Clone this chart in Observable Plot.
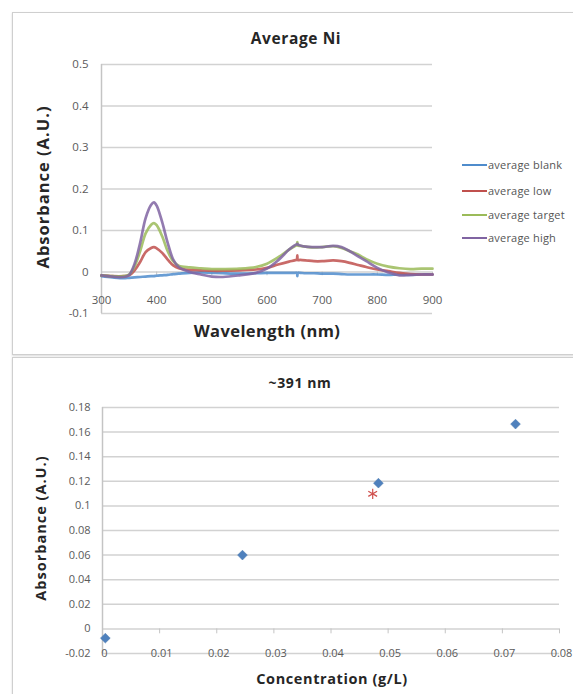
<!DOCTYPE html>
<html>
<head>
<meta charset="utf-8">
<script src="https://cdn.jsdelivr.net/npm/d3@7"></script>
<script src="https://cdn.jsdelivr.net/npm/@observablehq/plot@0.6"></script>
<style>
  html, body { margin: 0; padding: 0; background: #fff; }
  #wrap { position: relative; width: 573px; height: 694px; overflow: hidden; font-family: "Open Sans", Lato, sans-serif; }
  .panel { position: absolute; border: 1px solid #cfcfcf; box-shadow: 0 1px 2px rgba(0,0,0,0.15); background: #fff; }
  .t { position: absolute; white-space: nowrap; color: #262626; font-weight: bold; }
  .rot { transform: translate(-50%, -50%) rotate(-90deg); }
  .ctr { transform: translate(-50%, -50%); }
  .leg { position: absolute; font-size: 11px; color: #555; white-space: nowrap; letter-spacing: 0.2px; }
  .sw { position: absolute; height: 2px; width: 25px; }
  svg { position: absolute; left: 0; }
</style>
</head>
<body>
<div id="wrap">
  <div class="panel" style="left:12px; top:12px; width:620px; height:341px;"></div>
  <div class="panel" style="left:12px; top:357px; width:620px; height:400px;"></div>
</div>
<script>
// ---------- Data: spectra (Average Ni) ----------
const seriesNames = ["average blank", "average low", "average target", "average high"];
const seriesColors = ["#4f8ccc", "#c0504d", "#9bbb59", "#8064a2"];
const wavelengths = [300, 320, 340, 350, 360, 370, 380, 390, 395, 400, 410, 420, 430, 440, 460, 480, 500, 520, 550, 580, 600, 620, 640, 650, 654, 655, 656, 660, 670, 685, 700, 720, 735, 750, 765, 780, 800, 820, 840, 860, 880, 900];
const blankVals  = [-0.010, -0.013, -0.015, -0.014, -0.013, -0.012, -0.011, -0.010, -0.010, -0.009, -0.008, -0.007, -0.005, -0.004, -0.002, -0.001, -0.002, -0.003, -0.004, -0.003, -0.002, -0.002, -0.002, -0.002, -0.002, -0.010, -0.002, -0.002, -0.003, -0.003, -0.004, -0.004, -0.005, -0.006, -0.006, -0.006, -0.006, -0.007, -0.006, -0.007, -0.006, -0.006];
const lowVals    = [-0.008, -0.010, -0.010, -0.008, 0.004, 0.024, 0.048, 0.058, 0.060, 0.057, 0.046, 0.030, 0.016, 0.009, 0.005, 0.004, 0.003, 0.003, 0.004, 0.006, 0.010, 0.018, 0.025, 0.028, 0.030, 0.040, 0.029, 0.029, 0.028, 0.026, 0.026, 0.028, 0.026, 0.022, 0.017, 0.012, 0.006, 0.002, -0.002, -0.005, -0.006, -0.006];
const targetVals = [-0.008, -0.010, -0.010, -0.006, 0.014, 0.050, 0.093, 0.114, 0.118, 0.113, 0.086, 0.050, 0.026, 0.015, 0.011, 0.009, 0.007, 0.007, 0.008, 0.012, 0.020, 0.035, 0.054, 0.062, 0.065, 0.072, 0.064, 0.063, 0.061, 0.059, 0.060, 0.062, 0.058, 0.050, 0.042, 0.031, 0.020, 0.013, 0.009, 0.007, 0.008, 0.008];
const highVals   = [-0.008, -0.011, -0.012, -0.007, 0.020, 0.070, 0.130, 0.162, 0.168, 0.160, 0.120, 0.070, 0.030, 0.012, 0.000, -0.006, -0.011, -0.012, -0.008, -0.002, 0.008, 0.028, 0.054, 0.064, 0.067, 0.068, 0.066, 0.064, 0.061, 0.060, 0.060, 0.063, 0.060, 0.050, 0.038, 0.026, 0.010, -0.001, -0.008, -0.007, -0.006, -0.006];
const topYTicks = [-0.1, 0, 0.1, 0.2, 0.3, 0.4, 0.5];
const topXTicks = [300, 400, 500, 600, 700, 800, 900];

// ---------- Data: calibration at ~391 nm ----------
const concentrations = [0.0005, 0.0245, 0.0483, 0.0723];
const absorbances = [-0.0075, 0.060, 0.1185, 0.1665];
const unknownConc = [0.0473];
const unknownAbs = [0.1098];
const botYTicks = [-0.02, 0, 0.02, 0.04, 0.06, 0.08, 0.1, 0.12, 0.14, 0.16, 0.18];
const botXTicks = [0, 0.01, 0.02, 0.03, 0.04, 0.05, 0.06, 0.07, 0.08];

const fmt = d => String(+d.toFixed(3));
const grid = "#d2d2d2";
const tickCol = "#5a5a5a";
const font = "'Open Sans', Lato, sans-serif";

const spectra = [];
const allVals = [blankVals, lowVals, targetVals, highVals];
seriesNames.forEach((name, i) => {
  wavelengths.forEach((w, j) => spectra.push({series: name, wl: w, abs: allVals[i][j]}));
});

const wrap = document.getElementById("wrap");

// ---------- Top chart ----------
const topChart = Plot.plot({
  width: 573, height: 354,
  marginTop: 64, marginBottom: 41, marginLeft: 101, marginRight: 141,
  style: {fontFamily: font, background: "transparent"},
  x: {domain: [300, 900], axis: null},
  y: {domain: [-0.1, 0.5], axis: null},
  color: {domain: seriesNames, range: seriesColors},
  marks: [
    Plot.ruleY(topYTicks, {stroke: grid, strokeWidth: 1.5}),
    Plot.ruleX([300], {y1: -0.1, y2: 0.5, stroke: "#c4c4c4", strokeWidth: 1.5}),
    Plot.ruleX(topXTicks, {y1: 0, y2: -0.009, stroke: "#c4c4c4"}),
    Plot.line(spectra, {x: "wl", y: "abs", z: "series", stroke: "series", strokeWidth: 2.7, strokeOpacity: 0.85, curve: "catmull-rom"}),
    Plot.axisY(topYTicks, {label: null, tickSize: 0, tickPadding: 13, tickFormat: fmt, fontSize: 11.5, fill: tickCol}),
    Plot.text(topXTicks, {x: d => d, y: 0, dy: 28, text: d => String(d), fontSize: 11.5, fill: tickCol})
  ]
});
topChart.style.top = "0px";
wrap.appendChild(topChart);

// ---------- Bottom chart ----------
const botChart = Plot.plot({
  width: 573, height: 340,
  marginTop: 53, marginBottom: 41, marginLeft: 102, marginRight: 14,
  style: {fontFamily: font, background: "transparent"},
  x: {domain: [0, 0.08], axis: null},
  y: {domain: [-0.02, 0.18], axis: null},
  marks: [
    Plot.ruleY(botYTicks, {stroke: grid, strokeWidth: 1.5}),
    Plot.ruleX([0], {y1: -0.02, y2: 0.18, stroke: "#c4c4c4", strokeWidth: 1.5}),
    Plot.ruleX(botXTicks, {y1: 0, y2: -0.004, stroke: "#c4c4c4"}),
    Plot.text(botXTicks, {x: d => d, y: -0.02, dx: 2, text: fmt, fontSize: 11, fill: tickCol}),
    Plot.axisY(botYTicks, {label: null, tickSize: 0, tickPadding: 12, tickFormat: fmt, fontSize: 11, fill: tickCol}),
    Plot.dot(concentrations.map((c, i) => ({c, a: absorbances[i]})), {x: "c", y: "a", symbol: "square", rotate: 45, r: 3.9, fill: "#4f81bd", stroke: "#4a7ab0", strokeWidth: 0.5}),
    Plot.dot(unknownConc.map((c, i) => ({c, a: unknownAbs[i]})), {x: "c", y: "a", symbol: "asterisk", r: 4.8, stroke: "#d0504d", strokeWidth: 1.2, fill: "none"})
  ]
});
botChart.style.top = "354px";
wrap.appendChild(botChart);

// ---------- Text: titles and axis labels ----------
function addText(txt, x, y, size, cls, ls) {
  const d = document.createElement("div");
  d.className = "t " + cls;
  d.style.left = x + "px"; d.style.top = y + "px"; d.style.fontSize = size + "px";
  d.style.letterSpacing = ls + "px";
  d.textContent = txt;
  wrap.appendChild(d);
}
addText("Average Ni", 296, 38, 15.5, "ctr", 0.6);
addText("Absorbance (A.U.)", 42, 187, 16.5, "rot", 1);
addText("Wavelength (nm)", 267, 330, 16.5, "ctr", 0.4);
addText("~391 nm", 300, 382, 14, "ctr", 0.6);
addText("Absorbance (A.U.)", 40, 528, 14.5, "rot", 1);
addText("Concentration (g/L)", 332, 678, 14.5, "ctr", 0.6);

// ---------- Legend ----------
const legY = [165, 191, 215, 238];
seriesNames.forEach((name, i) => {
  const sw = document.createElement("div");
  sw.className = "sw";
  sw.style.left = "462px"; sw.style.top = (legY[i] - 1) + "px"; sw.style.background = seriesColors[i];
  wrap.appendChild(sw);
  const lb = document.createElement("div");
  lb.className = "leg";
  lb.style.left = "488px"; lb.style.top = (legY[i] - 8) + "px";
  lb.textContent = name;
  wrap.appendChild(lb);
});
</script>
</body>
</html>
